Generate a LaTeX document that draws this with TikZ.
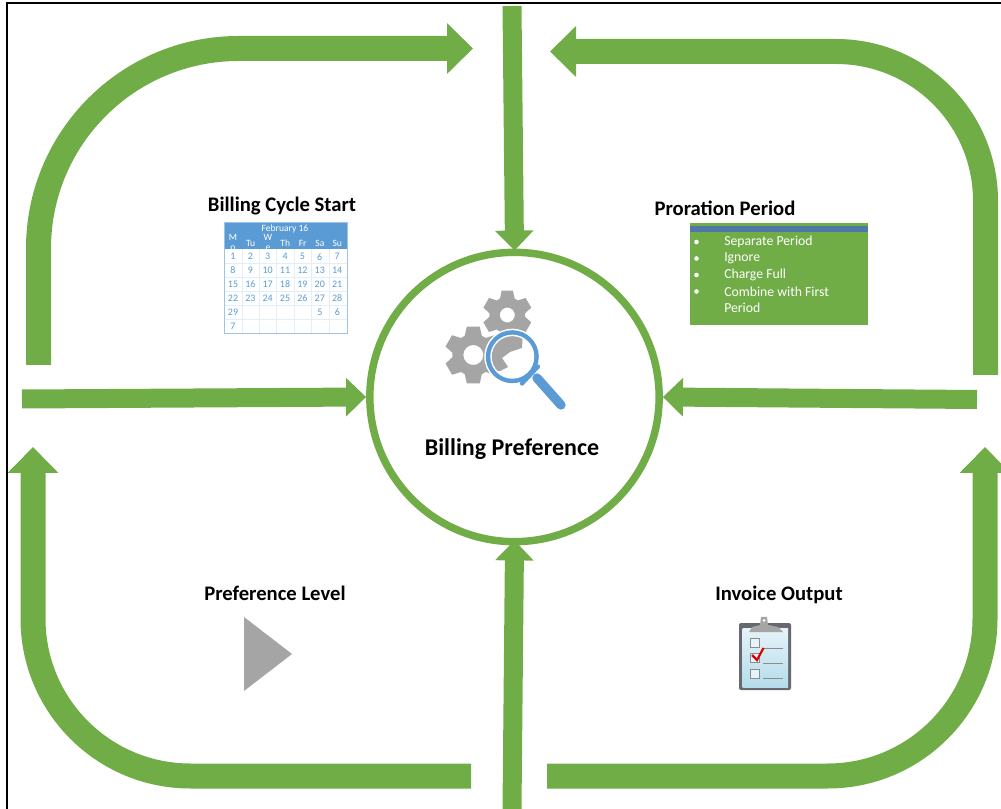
\documentclass[tikz,border=0pt]{standalone}
\usepackage{fontspec}
\setmainfont{Carlito}
\usetikzlibrary{arrows.meta}
\definecolor{flowgreen}{HTML}{70AD47}
\definecolor{calblue}{HTML}{5B9BD5}
\definecolor{calline}{HTML}{E4EEF8}
\definecolor{calframe}{HTML}{9DC3E6}
\definecolor{bandblue}{HTML}{4F77A8}
\definecolor{gearcol}{HTML}{A5A5A5}
\definecolor{boardcol}{HTML}{666A70}
\definecolor{papertop}{HTML}{E6F3F9}
\definecolor{paperlow}{HTML}{B4DCEB}
\tikzset{
  bigarrow/.style={draw=flowgreen,line width=18.75pt,-{Triangle[length=19.5pt,width=37pt]},flowgreen},
  smallarrow/.style={draw=flowgreen,line width=14.25pt,-{Triangle[length=15pt,width=28pt]},flowgreen},
  headline/.style={font=\fontsize{15.5}{17}\selectfont\bfseries,text=black,inner sep=0pt},
  dayhead/.style={font=\fontsize{7.2}{8}\selectfont,text=white,inner sep=0pt},
  dayno/.style={font=\fontsize{7.5}{8}\selectfont,text=calblue,inner sep=0pt},
  prorate/.style={font=\fontsize{10.3}{11}\selectfont,text=white,inner sep=0pt,anchor=west},
}
\newcommand{\gearwheel}[5]{
  \begin{scope}[shift={(#1,#2)}]
    \fill[gearcol,even odd rule] (6:#4)
      \foreach \a in {30,90,...,330} { -- (\a-24:#4) -- (\a-13:#3) -- (\a+13:#3) -- (\a+24:#4) }
      -- cycle (0,0) circle (#5);
  \end{scope}
}
\begin{document}
\begin{tikzpicture}[x=0.75pt,y=-0.75pt]
  \useasboundingbox (0,0) rectangle (1001,809);
  % frame
  \draw[black,line width=1.1pt] (7,809) -- (7,3) -- (1001,3);
  % hub
  \node[circle,draw=flowgreen,line width=5.6pt,minimum size=217pt,inner sep=0pt,fill=white] (hub) at (514.5,397) {};
  % ends of the arrows
  \coordinate (leftIn) at (22,399);
  \coordinate (rightIn) at (977,399.5);
  \coordinate (topIn) at (512,6);
  \coordinate (bottomIn) at (512,809);
  \coordinate (tlFrom) at (38.5,365);
  \coordinate (tlTo) at (473,48.5);
  \coordinate (trFrom) at (985.5,375);
  \coordinate (trTo) at (550,51.5);
  \coordinate (brFrom) at (547,776);
  \coordinate (brTo) at (985,447);
  \coordinate (blFrom) at (471,776);
  \coordinate (blTo) at (33,447);
  % outer arrows
  \draw[bigarrow,rounded corners=150pt] (tlFrom) |- (tlTo);
  \draw[bigarrow,rounded corners=112pt] (trFrom) |- (trTo);
  \draw[bigarrow,rounded corners=118pt] (brFrom) -| (brTo);
  \draw[bigarrow,rounded corners=118pt] (blFrom) -| (blTo);
  % arrows to the hub
  \draw[smallarrow] (leftIn) -- (hub.west);
  \draw[smallarrow] (rightIn) -- (hub.east);
  \draw[smallarrow,shorten >=-1.5pt] (topIn) -- (hub.north);
  \draw[smallarrow,shorten >=-3.75pt] (bottomIn) -- (hub.south);
  % headings
  \node[headline] (cycleTitle) at (282,206) {Billing Cycle Start};
  \node[headline] (periodTitle) at (725,208) {Proration Period};
  \node[headline] (levelTitle) at (275,593) {Preference Level};
  \node[headline] (outputTitle) at (779,595) {Invoice Output};
  \node[headline,font=\fontsize{18}{20}\selectfont\bfseries] (hubTitle) at (512,449) {Billing Preference};
  % calendar
  \fill[white] (224,222) rectangle (347,333);
  \fill[calblue] (224,222) rectangle (347,249);
  \foreach \y in {263,277,291,305,319} \draw[calline,line width=0.5pt] (224,\y) -- (347,\y);
  \foreach \x in {242,259,276,294,311,329} \draw[calline,line width=0.5pt] (\x,249) -- (\x,333);
  \draw[calframe,line width=0.7pt] (224,222) rectangle (347,333);
  \node[dayhead] (calMonth) at (285,229) {February 16};
  \begin{scope}
    \clip (224,222) rectangle (347,249);
    \node[dayhead] at (233,237) {M};
    \node[dayhead] at (233,248.5) {o};
    \node[dayhead] at (268,237) {W};
    \node[dayhead] at (268,248.5) {e};
  \end{scope}
  \foreach \d/\x in {Tu/250.7,Th/285.3,Fr/302.7,Sa/320,Su/337.3}
    \node[dayhead] at (\x,243) {\d};
  \foreach \d [count=\i from 0] in {1,...,28} {
    \pgfmathsetmacro{\cx}{233+17.35*mod(\i,7)}
    \pgfmathsetmacro{\cy}{256.7+13.9*floor(\i/7)}
    \node[dayno] at (\cx,\cy) {\d};
  }
  \node[dayno] at (233,312.3) {29};
  \node[dayno] at (320,312.3) {5};
  \node[dayno] at (337.3,312.3) {6};
  \node[dayno] at (233,326) {7};
  % proration box
  \fill[flowgreen] (690,223) rectangle (868,325.5);
  \fill[bandblue] (690,226) rectangle (868,232);
  \foreach \t/\y in {Separate Period/242,Ignore/258.5,Charge Full/275,Combine with First/291.5} {
    \node[prorate] at (724,\y) {\t};
    \fill[white] (696.5,\y) circle (2.3);
  }
  \node[prorate] at (724,308) {Period};
  % gears and lens
  \gearwheel{473.3}{355}{29}{21}{10}
  \gearwheel{507.3}{315}{25}{18}{7.5}
  \fill[white] (512.3,356.7) circle (28);
  \fill[calblue] (512.3,356.7) circle (26.5);
  \fill[white] (512.3,356.7) circle (22);
  \begin{scope}
    \clip (512.3,356.7) circle (20.5);
    \fill[gearcol] (485,330) -- (523,330) -- (522,348) -- (510,352) -- (502,358) -- (508,367) -- (500,371) -- (485,371) -- cycle;
  \end{scope}
  \draw[calblue,line width=3.2pt,line cap=round] (522,383.5) -- (538,366.5);
  \draw[calblue,line width=7pt,line cap=round] (537,378) -- (561,405);
  % triangle
  \fill[gearcol] (244,617) -- (292,654) -- (244,691) -- cycle;
  % clipboard
  \fill[boardcol,rounded corners=1.5pt] (739,623) rectangle (791,690);
  \fill[top color=papertop,bottom color=paperlow] (742.7,628) rectangle (788,687);
  \fill[gearcol] (749,632) -- (752,627) -- (760,625) -- (761,617) -- (767,617) -- (768,625) -- (778,627) -- (783,632) -- cycle;
  \fill[white] (764,620.5) circle (1.5);
  \foreach \y in {638,653,669} \draw[gray!90,line width=0.7pt,fill=papertop] (750,\y) rectangle (759,\y+9);
  \foreach \y in {648,663,678} \draw[gray!90,line width=0.7pt] (763,\y) -- (783,\y);
  \draw[red!85!black,line width=1.6pt] (752,655) -- (757,660) -- (763.5,648);
\end{tikzpicture}
\end{document}
